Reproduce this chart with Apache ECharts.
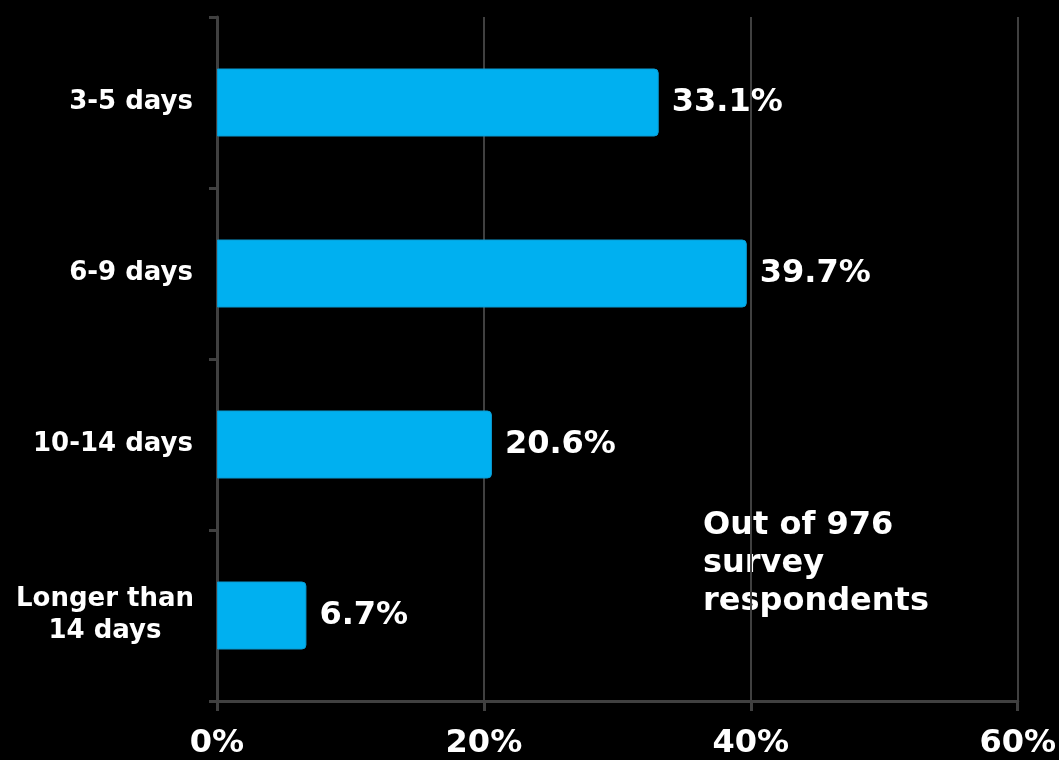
<!DOCTYPE html>
<html>
<head>
<meta charset="utf-8">
<style>
  html, body { margin: 0; padding: 0; background: #000; }
  #chart { width: 1059px; height: 760px; }
</style>
<script src="https://cdn.jsdelivr.net/npm/echarts@6/dist/echarts.min.js"></script>
</head>
<body>
<div id="chart"></div>
<script>
// Trip length categories and share of respondents (%)
const categories = ['3-5 days', '6-9 days', '10-14 days', 'Longer than\n14 days'];
const shares = [33.1, 39.7, 20.6, 6.7];
const xTicks = [0, 20, 40, 60];
const note = 'Out of 976\nsurvey\nrespondents';

const FONT = '"DejaVu Sans", Verdana, sans-serif';
const AXIS_GREY = '#404040';

const chart = echarts.init(document.getElementById('chart'), null, { renderer: 'canvas' });

// Multi-line category names are centred line by line inside a right-aligned block
function categoryLabel(value) {
  if (value.indexOf('\n') < 0) return value;
  return value.split('\n').map(function (s) { return '{c|' + s + '}'; }).join('\n');
}

chart.setOption({
  backgroundColor: '#000000',
  animation: false,
  grid: { left: 217, right: 41, top: 17, bottom: 55, containLabel: false },
  xAxis: {
    type: 'value',
    min: xTicks[0],
    max: xTicks[xTicks.length - 1],
    interval: xTicks[1] - xTicks[0],
    axisLine: { show: true, lineStyle: { color: AXIS_GREY, width: 3 } },
    axisTick: { show: true, length: 10, lineStyle: { color: AXIS_GREY, width: 3 } },
    splitLine: { show: true, lineStyle: { color: AXIS_GREY, width: 2 } },
    axisLabel: {
      color: '#ffffff', fontFamily: FONT, fontWeight: 'bold', fontSize: 32,
      margin: 27, formatter: '{value}%'
    }
  },
  yAxis: {
    type: 'category',
    data: categories,
    inverse: true,
    axisLine: { show: true, lineStyle: { color: AXIS_GREY, width: 3 } },
    axisTick: { show: true, length: 8, lineStyle: { color: AXIS_GREY, width: 3 } },
    axisLabel: {
      color: '#ffffff', fontFamily: FONT, fontWeight: 'bold', fontSize: 26,
      margin: 24, lineHeight: 32, align: 'right',
      formatter: categoryLabel,
      rich: {
        c: {
          width: 176, align: 'center', color: '#ffffff', fontFamily: FONT,
          fontWeight: 'bold', fontSize: 26, lineHeight: 32
        }
      }
    }
  },
  series: [{
    type: 'bar',
    data: shares,
    barWidth: 68,
    itemStyle: {
      color: '#00B0F0', borderRadius: [0, 4, 4, 0],
      borderColor: '#0A9BD2', borderWidth: 1
    },
    label: {
      show: true, position: 'right', distance: 13,
      color: '#ffffff', fontFamily: FONT, fontWeight: 'bold', fontSize: 32,
      formatter: '{c}%'
    }
  }],
  graphic: [{
    type: 'text',
    left: 703, top: 507, z: -1,
    style: {
      text: note, fill: '#ffffff', font: 'bold 32px ' + FONT, lineHeight: 38
    }
  }]
});
</script>
</body>
</html>
